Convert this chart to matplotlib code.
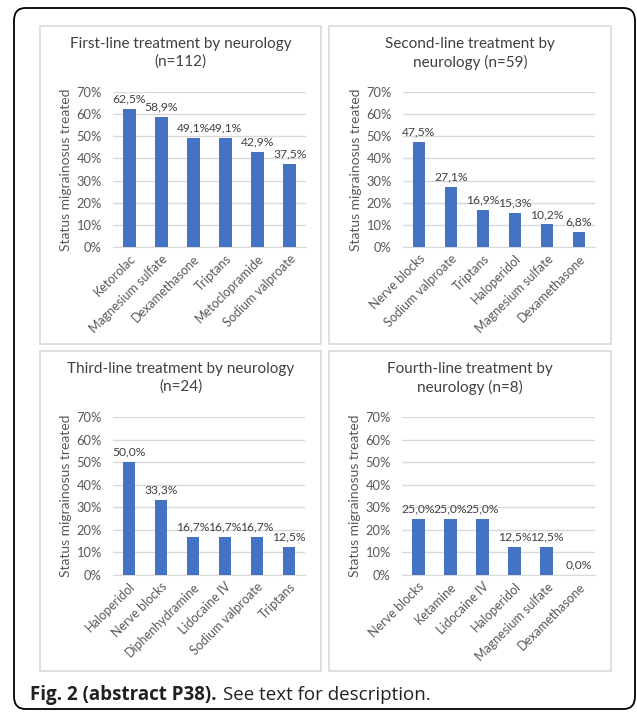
import matplotlib
matplotlib.use("Agg")
import matplotlib.pyplot as plt
from matplotlib.patches import Rectangle, FancyBboxPatch
from matplotlib.ticker import PercentFormatter

plt.rcParams['font.family'] = ['Lato', 'DejaVu Sans']

# data (percent of patients treated)
titles = [
    "First-line treatment by neurology\n(n=112)",
    "Second-line treatment by\nneurology (n=59)",
    "Third-line treatment by neurology\n(n=24)",
    "Fourth-line treatment by\nneurology (n=8)",
]
drugs_1 = ["Ketorolac", "Magnesium sulfate", "Dexamethasone", "Triptans",
           "Metoclopramide", "Sodium valproate"]
vals_1 = [62.5, 58.9, 49.1, 49.1, 42.9, 37.5]
drugs_2 = ["Nerve blocks", "Sodium valproate", "Triptans", "Haloperidol",
           "Magnesium sulfate", "Dexamethasone"]
vals_2 = [47.5, 27.1, 16.9, 15.3, 10.2, 6.8]
drugs_3 = ["Haloperidol", "Nerve blocks", "Diphenhydramine", "Lidocaine IV",
           "Sodium valproate", "Triptans"]
vals_3 = [50.0, 33.3, 16.7, 16.7, 16.7, 12.5]
drugs_4 = ["Nerve blocks", "Ketamine", "Lidocaine IV", "Haloperidol",
           "Magnesium sulfate", "Dexamethasone"]
vals_4 = [25.0, 25.0, 25.0, 12.5, 12.5, 0.0]

W, H = 637, 712
fig = plt.figure(figsize=(W / 100, H / 100), dpi=100)

def fx(x):
    return x / W

def fy(y):
    return 1 - y / H

# outer rounded frame
fig.patches.append(FancyBboxPatch((fx(14), fy(709)), fx(621), (709 - 8) / H,
                                  boxstyle="round,pad=0,rounding_size=0.018",
                                  transform=fig.transFigure, fill=False,
                                  edgecolor="black", linewidth=1.3))

# panel boxes: (left, top, right, bottom) in pixels
panels = [(40, 26, 321, 344), (329, 26, 611, 344),
          (40, 351, 321, 671), (329, 351, 611, 671)]
axes_px = [(113, 92, 306, 247), (403, 92, 595, 247),
           (113, 417, 305, 575), (402, 417, 595, 575)]
data = [(drugs_1, vals_1), (drugs_2, vals_2), (drugs_3, vals_3), (drugs_4, vals_4)]

text_col = "#595959"
bar_col = "#4472C4"

for (pl, pt, pr, pb), (al, at, ar, ab), title, (names, vals) in zip(panels, axes_px, titles, data):
    fig.patches.append(Rectangle((fx(pl), fy(pb)), fx(pr - pl), (pb - pt) / H,
                                 transform=fig.transFigure, fill=False,
                                 edgecolor="#D9D9D9", linewidth=1.2))
    fig.text(fx((pl + pr) / 2), fy(pt + 11), title, ha="center", va="top",
             fontsize=11, color="#404040", linespacing=1.3)

    ax = fig.add_axes([fx(al), fy(ab), fx(ar - al), (ab - at) / H])
    x = range(len(vals))
    ax.bar(x, vals, width=0.4, color=bar_col, zorder=3)
    for xi, v in zip(x, vals):
        ax.text(xi, v + 2.0, f"{v:.1f}%".replace(".", ","), ha="center",
                va="bottom", fontsize=8.7, color="#404040")
    ax.set_ylim(0, 70)
    ax.set_xlim(-0.5, len(vals) - 0.5)
    ax.set_yticks(range(0, 71, 10))
    ax.yaxis.set_major_formatter(PercentFormatter(decimals=0))
    ax.grid(axis="y", color="#D9D9D9", linewidth=1, zorder=0)
    for s in ["top", "right", "left"]:
        ax.spines[s].set_visible(False)
    ax.spines["bottom"].set_color("#D9D9D9")
    ax.tick_params(axis="y", length=0, labelsize=9.3, labelcolor=text_col, pad=8)
    ax.tick_params(axis="x", length=0, labelsize=9, labelcolor=text_col, pad=4)
    ax.set_xticks(list(x))
    ax.set_xticklabels(names, rotation=45, ha="right", rotation_mode="anchor")
    ax.set_ylabel("Status migrainosus treated", fontsize=10, color=text_col,
                  labelpad=3)
    ax.patch.set_visible(False)

cap = fig.text(fx(30), fy(695), "Fig. 2 (abstract P38).", fontsize=13.5,
               fontweight="bold", ha="left", va="center",
               family=["Open Sans", "DejaVu Sans"], color="#231F20")
fig.canvas.draw()
bb = cap.get_window_extent(renderer=fig.canvas.get_renderer())
fig.text(bb.x1 / W + fx(6), fy(695), "See text for description.", fontsize=13.5,
         ha="left", va="center", family=["Open Sans", "DejaVu Sans"],
         color="#231F20")

fig.savefig("out.png", dpi=100)
